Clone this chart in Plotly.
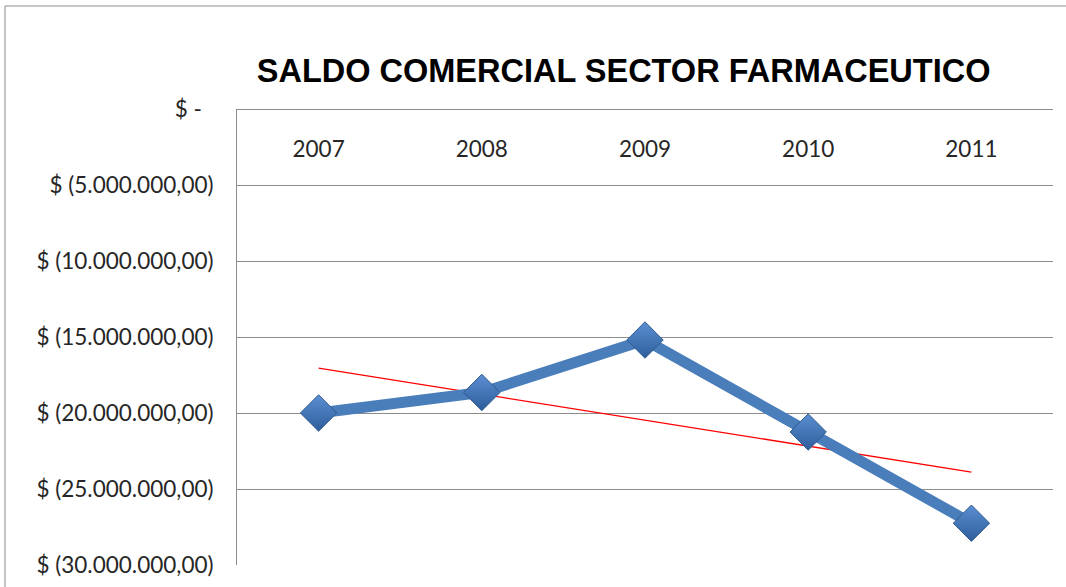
import numpy as np
import plotly.graph_objects as go

# Trade balance of the pharmaceutical sector (USD)
years = ["2007", "2008", "2009", "2010", "2011"]
saldo = [-20_000_000, -18_650_000, -15_200_000, -21_250_000, -27_250_000]

tick_vals = [0, -5_000_000, -10_000_000, -15_000_000, -20_000_000, -25_000_000, -30_000_000]
tick_text = [
    "$ -\u00a0\u00a0",
    "$ (5.000.000,00)",
    "$ (10.000.000,00)",
    "$ (15.000.000,00)",
    "$ (20.000.000,00)",
    "$ (25.000.000,00)",
    "$ (30.000.000,00)",
]

# Linear trend over the five years
idx = np.arange(len(years))
slope, intercept = np.polyfit(idx, saldo, 1)
trend = slope * idx + intercept

fig = go.Figure()

fig.add_trace(go.Scatter(
    x=years, y=trend, mode="lines",
    line=dict(color="#FF0000", width=1.3),
    hoverinfo="skip", showlegend=False,
))

fig.add_trace(go.Scatter(
    x=years, y=saldo, mode="lines+markers",
    line=dict(color="#4A7EBB", width=11),
    marker=dict(
        symbol="diamond", size=28, color="#5B8FD3",
        gradient=dict(type="vertical", color="#2E5D9A"),
        line=dict(color="#2F5A8F", width=1),
    ),
    showlegend=False,
))

grid = "#8C8C8C"
label_font = dict(family="Lato, Open Sans", size=22.5, color="#262626")
fig.update_layout(
    width=1066, height=587,
    margin=dict(l=237, r=13, t=109, b=22),
    paper_bgcolor="white", plot_bgcolor="white",
    title=dict(
        text="<b>SALDO COMERCIAL SECTOR FARMACEUTICO</b>",
        font=dict(family="Liberation Sans, Arial", size=32.5, color="black"),
        x=0.585, xanchor="center", y=0.879, yanchor="middle",
    ),
    xaxis=dict(
        type="category", range=[-0.5, 4.5], side="top",
        anchor="free", position=0.884, ticks="", automargin=False,
        showgrid=False, showline=False, zeroline=False,
        tickfont=label_font,
    ),
    yaxis=dict(
        range=[-30_000_000, 0], tickvals=tick_vals, ticktext=tick_text,
        showgrid=True, gridcolor=grid, gridwidth=1,
        showline=True, linecolor=grid, linewidth=1,
        zeroline=True, zerolinecolor=grid, zerolinewidth=1,
        ticks="", ticklabelstandoff=18, automargin=False,
        tickfont=label_font,
    ),
    shapes=[dict(
        type="rect", xref="paper", yref="paper",
        x0=-0.2843, x1=1.03, y0=-0.06, y1=1.2259,
        line=dict(color="#8C8C8C", width=1), layer="below",
    )],
)

fig.write_html("out.html")
